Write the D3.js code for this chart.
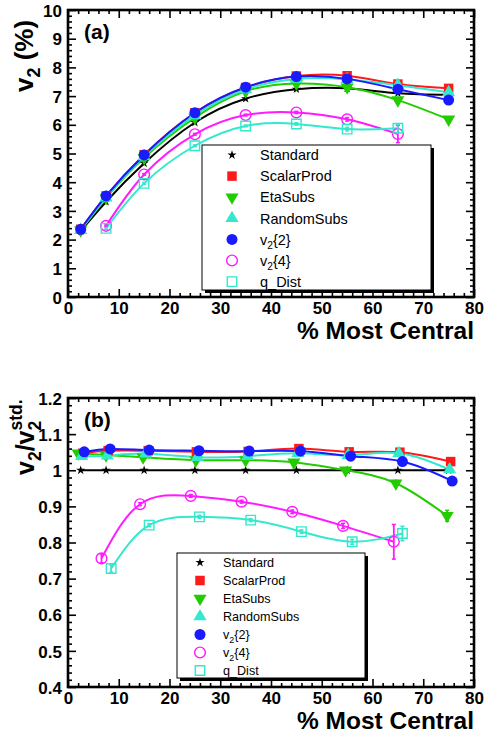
<!DOCTYPE html>
<html><head><meta charset="utf-8">
<script src="https://cdn.jsdelivr.net/npm/d3@7"></script>
<style>body{margin:0;background:#fff}svg{display:block}text{font-family:"Liberation Sans",Arial,Helvetica,sans-serif}</style>
</head><body><svg id="c" width="484" height="736"></svg>
<script>
// ---------- data ----------
const seriesNames = ["Standard","ScalarProd","EtaSubs","RandomSubs","v2{2}","v2{4}","q_Dist"];
const seriesColors = ["#000000","#ff1a1a","#22cc00","#33e8cc","#1a1aff","#ff1aff","#33e8cc"];
const seriesMarkers = ["star","square","tridown","triup","circle","circleOpen","squareOpen"];

// panel (a): v2 (%) vs centrality
const centA = [2.5,7.5,15,25,35,45,55,65,75];
const centA4 = [7.5,15,25,35,45,55,65];
const aStandard  = [2.30,3.32,4.66,6.08,6.91,7.24,7.27,7.10,7.05];
const aScalar    = [2.36,3.52,4.96,6.42,7.30,7.70,7.71,7.42,7.27];
const aEtaSubs   = [2.33,3.45,4.85,6.25,7.17,7.44,7.31,6.86,6.19];
const aRandom    = [2.33,3.46,4.90,6.33,7.23,7.60,7.58,7.38,7.13];
const aV22       = [2.36,3.52,4.95,6.42,7.31,7.68,7.60,7.24,6.86];
const aV24       = [2.48,4.27,5.67,6.34,6.43,6.19,5.68];
const aV24Err    = [0.03,0.03,0.03,0.03,0.04,0.06,0.30];
const aQDist     = [2.39,3.96,5.27,5.96,6.03,5.85,5.88];
const aQDistErr  = [0.03,0.03,0.03,0.03,0.04,0.06,0.15];

// panel (b): ratio to standard
const bStdX    = [2.5,7.5,15,25,35,45,55,65,75];
const bStd     = [1,1,1,1,1,1,1,1,1];
const bScalarX = [2.9,7.9,15.8,25.3,35.5,45.5,55.4,65.4,75.4];
const bScalar  = [1.047,1.054,1.054,1.051,1.052,1.060,1.051,1.050,1.024];
const bEtaX    = [2.0,7.5,14.8,25.2,35.0,44.5,54.7,64.6,74.7];
const bEta     = [1.047,1.042,1.036,1.028,1.028,1.022,1.000,0.964,0.874];
const bEtaErr  = [0.004,0.004,0.004,0.004,0.004,0.005,0.006,0.008,0.015];
const bRandX   = [2.7,7.7,15.3,25.5,35.4,45.3,55.2,65.2,75.2];
const bRand    = [1.039,1.040,1.046,1.036,1.039,1.047,1.042,1.047,1.002];
const bV22X    = [3.2,8.3,16.0,25.8,35.7,45.8,55.7,65.9,75.7];
const bV22     = [1.051,1.059,1.056,1.054,1.053,1.053,1.039,1.024,0.970];
const bV24X    = [6.6,14.2,24.2,34.2,44.2,54.2,64.2];
const bV24     = [0.756,0.906,0.929,0.913,0.885,0.846,0.802];
const bV24Err  = [0.012,0.004,0.004,0.004,0.005,0.007,0.048];
const bQX      = [8.5,16.0,25.9,36.0,46.0,56.0,65.9];
const bQ       = [0.728,0.848,0.871,0.862,0.830,0.802,0.825];
const bQErr    = [0.010,0.004,0.004,0.004,0.005,0.007,0.020];

const xTicks = [0,10,20,30,40,50,60,70,80];
const yTicksA = [0,1,2,3,4,5,6,7,8,9,10];
const yTicksB = [0.4,0.5,0.6,0.7,0.8,0.9,1,1.1,1.2];

// ---------- drawing ----------
const svg = d3.select("#c");
svg.append("rect").attr("width",484).attr("height",736).attr("fill","#fff");

function markerPath(type){
  const map = {star:[d3.symbolStar,26],square:[d3.symbolSquare,90],tridown:[d3.symbolTriangle,75],
    triup:[d3.symbolTriangle,75],circle:[d3.symbolCircle,95],circleOpen:[d3.symbolCircle,90],squareOpen:[d3.symbolSquare,90]};
  const m = map[type];
  return d3.symbol().type(m[0]).size(m[1])();
}
function drawMarker(g,x,y,type,color){
  const open = type==="circleOpen"||type==="squareOpen";
  const p = g.append("path").attr("d",markerPath(type))
    .attr("transform",`translate(${x},${y})`+(type==="tridown"?" rotate(180)":""));
  if(open) p.attr("fill","none").attr("stroke",color).attr("stroke-width",1.4);
  else p.attr("fill",color);
}

function panel(opt){
  const g = svg.append("g");
  const x = d3.scaleLinear().domain([0,80]).range([68,474]);
  const y = d3.scaleLinear().domain(opt.ydom).range([opt.bottom,opt.top]);
  const clipId = "clip"+opt.id;
  svg.append("clipPath").attr("id",clipId).append("rect")
    .attr("x",68).attr("y",opt.top).attr("width",406).attr("height",opt.bottom-opt.top);
  const plot = g.append("g").attr("clip-path",`url(#${clipId})`);
  const line = d3.line().x(d=>x(d[0])).y(d=>y(d[1])).curve(d3.curveNatural);
  opt.series.forEach(s=>{
    const pts = s.x.map((v,i)=>[v,s.y[i]]);
    plot.append("path").attr("d",line(pts)).attr("fill","none").attr("stroke",s.color).attr("stroke-width",2);
  });
  opt.series.forEach(s=>{
    if(s.err){
      s.x.forEach((v,i)=>{
        const e=s.err[i]; if(!e) return;
        const x0=x(v), y1=y(s.y[i]-e), y2=y(s.y[i]+e);
        plot.append("line").attr("x1",x0).attr("x2",x0).attr("y1",y1).attr("y2",y2).attr("stroke",s.color).attr("stroke-width",1.8);
        [y1,y2].forEach(yy=>plot.append("line").attr("x1",x0-2).attr("x2",x0+2).attr("y1",yy).attr("y2",yy).attr("stroke",s.color).attr("stroke-width",1.5));
      });
    }
    s.x.forEach((v,i)=>drawMarker(plot,x(v),y(s.y[i]),s.marker,s.color));
  });
  // axes with ticks on all sides, inward
  const fmt = opt.fmt;
  const ax = d3.axisBottom(x).tickValues(xTicks).tickSizeInner(-8).tickSizeOuter(0).tickPadding(5).tickFormat(d3.format("d"));
  const axB = g.append("g").attr("transform",`translate(0,${opt.bottom})`).call(ax);
  const axT = g.append("g").attr("transform",`translate(0,${opt.top})`).call(d3.axisTop(x).tickValues(xTicks).tickSizeInner(-8).tickSizeOuter(0).tickFormat(""));
  const minorX = d3.range(0,80.01,2).filter(v=>v%10!==0);
  const mxB = g.append("g").attr("transform",`translate(0,${opt.bottom})`).call(d3.axisBottom(x).tickValues(minorX).tickSizeInner(-4).tickSizeOuter(0).tickFormat(""));
  const mxT = g.append("g").attr("transform",`translate(0,${opt.top})`).call(d3.axisTop(x).tickValues(minorX).tickSizeInner(-4).tickSizeOuter(0).tickFormat(""));
  const axL = g.append("g").attr("transform","translate(68,0)").call(d3.axisLeft(y).tickValues(opt.yticks).tickSizeInner(-8).tickSizeOuter(0).tickPadding(6).tickFormat(fmt));
  const axR = g.append("g").attr("transform","translate(474,0)").call(d3.axisRight(y).tickValues(opt.yticks).tickSizeInner(-8).tickSizeOuter(0).tickFormat(""));
  const myL = g.append("g").attr("transform","translate(68,0)").call(d3.axisLeft(y).tickValues(opt.yminor).tickSizeInner(-4).tickSizeOuter(0).tickFormat(""));
  const myR = g.append("g").attr("transform","translate(474,0)").call(d3.axisRight(y).tickValues(opt.yminor).tickSizeInner(-4).tickSizeOuter(0).tickFormat(""));
  [axB,axT,mxB,mxT,axL,axR,myL,myR].forEach(a=>{
    a.select(".domain").remove();
    a.selectAll(".tick line").attr("stroke","#000").attr("stroke-width",1.6);
    a.selectAll(".tick text").attr("font-size",17).attr("font-weight","bold").attr("fill","#000")
      .attr("font-family","Liberation Sans, Arial, sans-serif");
  });
  axL.selectAll(".tick text").attr("dy","0.36em");
  g.append("rect").attr("x",68).attr("y",opt.top).attr("width",406).attr("height",opt.bottom-opt.top)
    .attr("fill","none").attr("stroke","#000").attr("stroke-width",2.6);
  // panel label
  g.append("text").attr("x",84).attr("y",opt.top+29).attr("font-size",21).attr("font-weight","bold").text(opt.label);
  // x title
  g.append("text").attr("x",474).attr("y",opt.bottom+42).attr("text-anchor","end")
    .attr("font-size",24.5).attr("font-weight","bold").text("% Most Central");
  // legend
  const L = opt.legend;
  g.append("rect").attr("x",L.x+3).attr("y",L.y+3).attr("width",L.w).attr("height",L.h).attr("fill","#000");
  g.append("rect").attr("x",L.x).attr("y",L.y).attr("width",L.w).attr("height",L.h).attr("fill","#fff").attr("stroke","#000").attr("stroke-width",1);
  seriesNames.forEach((n,i)=>{
    const yy = L.y + L.first + i*L.dy;
    drawMarker(g,L.mx,yy,seriesMarkers[i],seriesColors[i]);
    const t = g.append("text").attr("x",L.tx).attr("y",yy+L.fs*0.36).attr("font-size",L.fs);
    const m = n.match(/^v2\{(\d)\}$/);
    if(m){
      t.append("tspan").text("v");
      t.append("tspan").attr("font-size",L.fs*0.7).attr("dy",L.fs*0.28).text("2");
      t.append("tspan").attr("dy",-L.fs*0.28).text("{"+m[1]+"}");
    } else t.text(n);
  });
  return g;
}

const sA = [
  {x:centA,y:aStandard,color:seriesColors[0],marker:"star"},
  {x:centA,y:aScalar,color:seriesColors[1],marker:"square"},
  {x:centA,y:aEtaSubs,color:seriesColors[2],marker:"tridown"},
  {x:centA,y:aRandom,color:seriesColors[3],marker:"triup"},
  {x:centA,y:aV22,color:seriesColors[4],marker:"circle"},
  {x:centA4,y:aV24,err:aV24Err,color:seriesColors[5],marker:"circleOpen"},
  {x:centA4,y:aQDist,err:aQDistErr,color:seriesColors[6],marker:"squareOpen"}
];
const gA = panel({id:"a",top:10,bottom:297,ydom:[0,10],yticks:yTicksA,yminor:d3.range(0,10.001,0.2).filter(v=>Math.abs(v-Math.round(v))>1e-6),
  fmt:d3.format("d"),series:sA,label:"(a)",
  legend:{x:202,y:145,w:229,h:145,first:10,dy:21.1,mx:232,tx:260,fs:14.5}});
// y title a
const tA = gA.append("text").attr("transform","translate(33,92) rotate(-90)").attr("font-size",26).attr("font-weight","bold");
tA.append("tspan").text("v");
tA.append("tspan").attr("font-size",18).attr("dy",7).text("2");
tA.append("tspan").attr("dy",-7).text(" (%)");

const sB = [
  {x:bStdX,y:bStd,color:seriesColors[0],marker:"star"},
  {x:bScalarX,y:bScalar,color:seriesColors[1],marker:"square"},
  {x:bEtaX,y:bEta,err:bEtaErr,color:seriesColors[2],marker:"tridown"},
  {x:bRandX,y:bRand,color:seriesColors[3],marker:"triup"},
  {x:bV22X,y:bV22,color:seriesColors[4],marker:"circle"},
  {x:bV24X,y:bV24,err:bV24Err,color:seriesColors[5],marker:"circleOpen"},
  {x:bQX,y:bQ,err:bQErr,color:seriesColors[6],marker:"squareOpen"}
];
const gB = panel({id:"b",top:398,bottom:687,ydom:[0.4,1.2],yticks:yTicksB,yminor:d3.range(0.4,1.2001,0.02).filter(v=>Math.abs(v*10-Math.round(v*10))>1e-6),
  fmt:d=>d3.format("")(+d.toFixed(1)),series:sB,label:"(b)",
  legend:{x:177,y:553,w:188,h:125,first:9.5,dy:18,mx:200,tx:223,fs:12.6}});
const tB = gB.append("text").attr("transform","translate(34,475) rotate(-90)").attr("font-size",25).attr("font-weight","bold");
tB.append("tspan").text("v");
tB.append("tspan").attr("font-size",17.5).attr("dy",7).text("2");
tB.append("tspan").attr("dy",-7).text("/v");
tB.append("tspan").attr("font-size",17.5).attr("dy",7).text("2");
tB.append("tspan").attr("font-size",17.5).attr("dx",-9.7).attr("dy",-19).text("std.");
</script></body></html>
